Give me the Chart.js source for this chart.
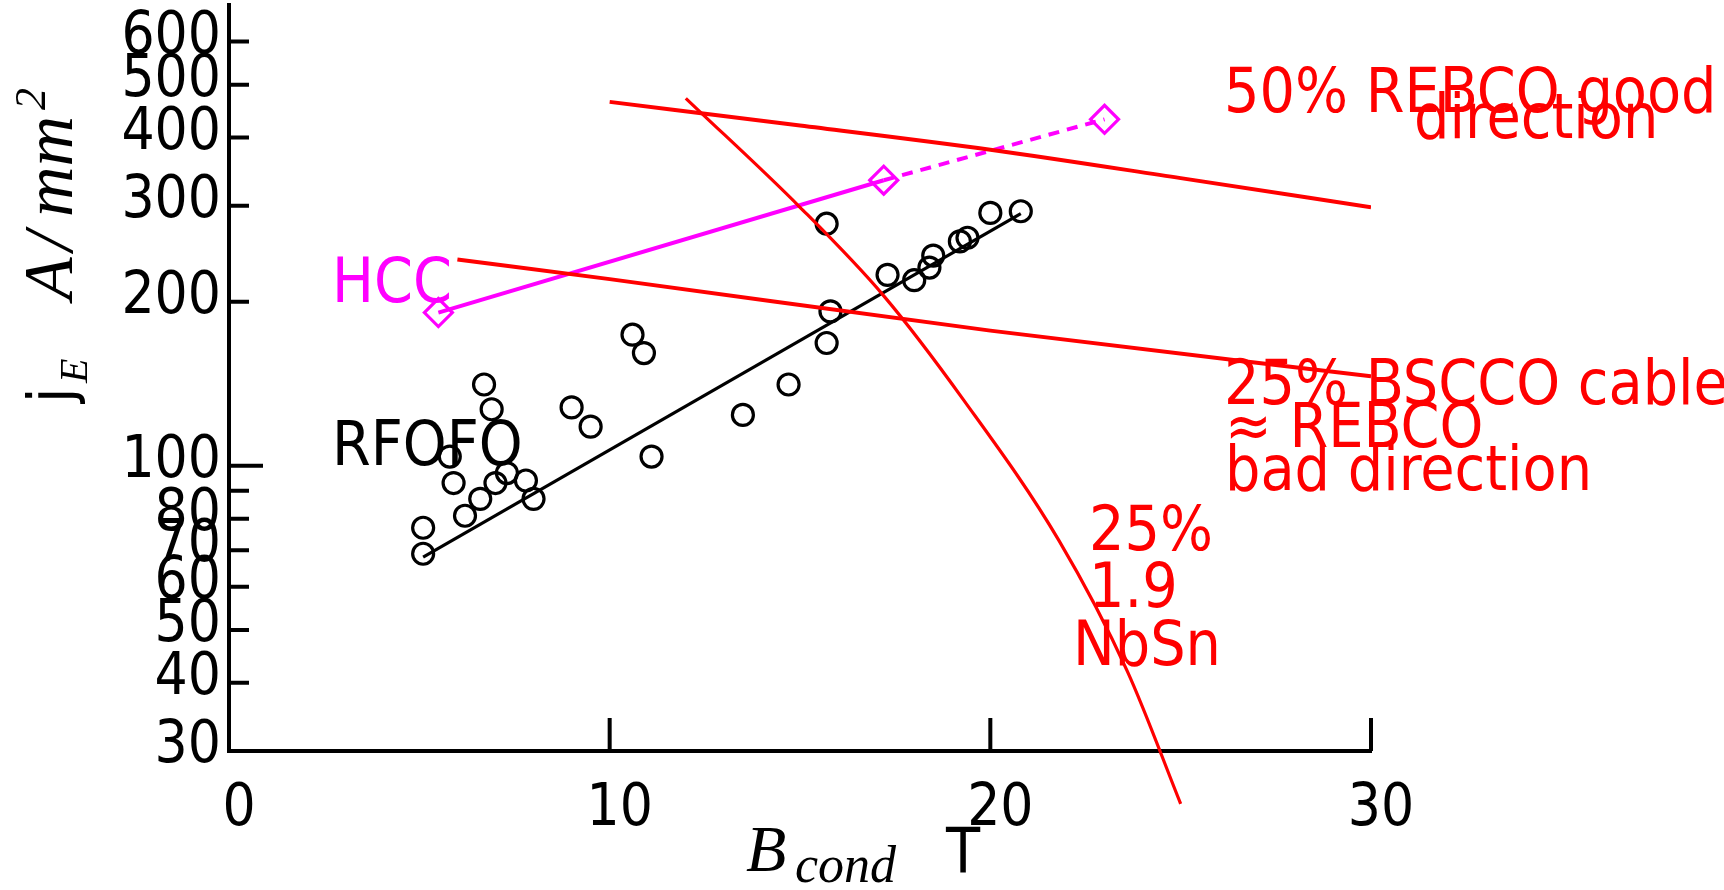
<!DOCTYPE html>
<html>
<head>
<meta charset="utf-8">
<title>jE vs Bcond</title>
<script src="https://cdn.jsdelivr.net/npm/chart.js@4.4.0/dist/chart.umd.js"></script>
<style>
  html, body { margin: 0; padding: 0; background: #fff; }
  #wrap { width: 1724px; height: 890px; position: relative; }
</style>
</head>
<body>
<div id="wrap"><canvas id="chart"></canvas></div>
<script>
// RFOFO cases: field on conductor (T) and engineering current density (A/mm^2)
const rfofoB = [5.1, 5.1, 6.2, 6.6, 5.9, 5.8, 7.0, 7.3, 7.8, 8.0, 6.7, 6.9, 9.0, 9.5, 10.6, 10.9, 11.1, 13.5, 14.7, 15.7, 15.7, 15.8, 17.3, 18.0, 18.4, 18.5, 19.2, 19.4, 20.0, 20.8];
const rfofoJ = [69, 77, 81, 87, 93, 104, 93, 97, 94, 87, 141, 127, 128, 118, 174, 161, 104, 124, 141, 278, 168, 192, 224, 219, 231, 243, 258, 262, 291, 293];

// fit through the RFOFO points
const fitB = [5.1, 20.8];
const fitJ = [68, 290];

// HCC cases
const hccB = [5.5, 17.2, 23.0];
const hccJ = [191, 334, 432];

// conductor limits
const rebcoB = [10, 15, 20, 25, 30];
const rebcoJ = [465, 421, 380, 337, 298];
const bsccoB = [6, 10, 20, 30];
const bsccoJ = [239, 220, 177, 146];
const nbsnB = [12.0, 15.0, 17.2, 19.3, 21.8, 23.6, 25.0];
const nbsnJ = [472, 298, 205, 132, 73, 42, 24];

// axes
const xTicks = [0, 10, 20, 30];
const yTicks = [30, 40, 50, 60, 70, 80, 90, 100, 200, 300, 400, 500, 600];
const yLabelled = [30, 40, 50, 60, 70, 80, 100, 200, 300, 400, 500, 600];

const SANS = "'DejaVu Sans Condensed', 'DejaVu Sans', sans-serif";
const SERIF = "'Liberation Serif', 'DejaVu Serif', serif";
const RED = '#ff0000';
const MAGENTA = '#ff00ff';

function pts(xs, ys) {
    return xs.map(function(v, i) { return { x: v, y: ys[i] }; });
}

// free text on the plot (canvas pixels, left / baseline)
const notes = [
    { text: '50% REBCO good', x: 1224, y: 112, color: RED },
    { text: 'direction', x: 1414, y: 138, color: RED },
    { text: '25% BSCCO cable', x: 1224, y: 404, color: RED },
    { text: '\u2248 REBCO', x: 1225, y: 447, color: RED },
    { text: 'bad direction', x: 1225, y: 490, color: RED },
    { text: '25%', x: 1089, y: 550, color: RED },
    { text: '1.9', x: 1089, y: 607, color: RED },
    { text: 'NbSn', x: 1073, y: 665, color: RED },
    { text: 'HCC', x: 332, y: 302, color: MAGENTA },
    { text: 'RFOFO', x: 332, y: 465, color: '#000' }
];

const inwardTicks = {
    id: 'inwardTicks',
    afterDraw: function(chart) {
        const ctx = chart.ctx;
        const a = chart.chartArea;
        const x = chart.scales.x, y = chart.scales.y;
        ctx.save();
        ctx.strokeStyle = '#000';
        ctx.lineWidth = 4;
        ctx.beginPath();
        yTicks.forEach(function(v) {
            if (v === 30) return;
            const py = y.getPixelForValue(v);
            ctx.moveTo(a.left, py);
            ctx.lineTo(a.left + (v === 100 ? 34 : 20), py);
        });
        xTicks.forEach(function(v) {
            if (v === 0) return;
            const px = x.getPixelForValue(v);
            ctx.moveTo(px, a.bottom);
            ctx.lineTo(px, a.bottom - 33);
        });
        ctx.stroke();
        ctx.restore();
    }
};

const textLayer = {
    id: 'textLayer',
    afterDraw: function(chart) {
        const ctx = chart.ctx;
        ctx.save();
        ctx.textAlign = 'left';
        ctx.textBaseline = 'alphabetic';
        ctx.font = '62px ' + SANS;
        notes.forEach(function(n) {
            ctx.fillStyle = n.color;
            ctx.fillText(n.text, n.x, n.y);
        });

        // x title: B_cond  T
        ctx.fillStyle = '#000';
        ctx.font = 'italic 66px ' + SERIF;
        ctx.fillText('B', 746, 871);
        ctx.font = 'italic 52px ' + SERIF;
        ctx.fillText('cond', 795, 882);
        ctx.font = '62px ' + SANS;
        ctx.fillText('T', 946, 872);

        // y title: j_E  A/mm^2 (rotated)
        ctx.translate(72, 403);
        ctx.rotate(-Math.PI / 2);
        ctx.font = '62px ' + SANS;
        ctx.fillText('j', 0, 0);
        ctx.font = 'italic 40px ' + SERIF;
        ctx.fillText('E', 20, 15);
        ctx.font = 'italic 70px ' + SERIF;
        ctx.fillText('A', 103, 0);
        ctx.fillText('/', 152, 0);
        ctx.fillText('mm', 186, 0);
        ctx.font = 'italic 44px ' + SERIF;
        ctx.fillText('2', 293, -27);
        ctx.restore();
    }
};

function noPad(scale) {
    scale.paddingTop = 0;
    scale.paddingBottom = 0;
    scale.paddingLeft = 0;
    scale.paddingRight = 0;
}

Chart.defaults.font.family = SANS;
Chart.defaults.color = '#000';

new Chart(document.getElementById('chart'), {
    type: 'scatter',
    data: {
        datasets: [
            {
                label: '25% 1.9 NbSn',
                type: 'line',
                data: pts(nbsnB, nbsnJ),
                borderColor: RED,
                borderWidth: 3.2,
                pointRadius: 0,
                cubicInterpolationMode: 'monotone',
                capBezierPoints: false,
                clip: false
            },
            {
                label: '50% REBCO good direction',
                type: 'line',
                data: pts(rebcoB, rebcoJ),
                borderColor: RED,
                borderWidth: 4,
                pointRadius: 0,
                cubicInterpolationMode: 'monotone'
            },
            {
                label: '25% BSCCO cable',
                type: 'line',
                data: pts(bsccoB, bsccoJ),
                borderColor: RED,
                borderWidth: 4,
                pointRadius: 0,
                cubicInterpolationMode: 'monotone'
            },
            {
                label: 'HCC',
                type: 'line',
                data: pts(hccB, hccJ),
                borderColor: MAGENTA,
                borderWidth: 4,
                pointStyle: 'rectRot',
                pointRadius: 14,
                pointBorderWidth: 3.2,
                pointBorderColor: MAGENTA,
                pointBackgroundColor: 'rgba(0,0,0,0)',
                segment: {
                    borderDash: function(ctx) { return ctx.p0DataIndex === 1 ? [11, 8] : undefined; }
                }
            },
            {
                label: 'RFOFO fit',
                type: 'line',
                data: pts(fitB, fitJ),
                borderColor: '#000',
                borderWidth: 3.2,
                pointRadius: 0
            },
            {
                label: 'RFOFO',
                data: pts(rfofoB, rfofoJ),
                pointStyle: 'circle',
                pointRadius: 10.5,
                borderWidth: 3.2,
                borderColor: '#000',
                backgroundColor: 'rgba(0,0,0,0)'
            }
        ]
    },
    options: {
        responsive: true,
        maintainAspectRatio: false,
        animation: false,
        events: [],
        layout: { autoPadding: false, padding: { left: 0, right: 353, top: 5, bottom: 0 } },
        plugins: {
            legend: { display: false },
            tooltip: { enabled: false }
        },
        scales: {
            x: {
                type: 'linear',
                min: 0,
                max: 30,
                afterBuildTicks: function(scale) {
                    scale.ticks = xTicks.map(function(v) { return { value: v }; });
                },
                afterFit: function(scale) { scale.height = 139; noPad(scale); },
                grid: { display: true, drawOnChartArea: false, drawTicks: false },
                border: { display: true, color: '#000', width: 4 },
                ticks: {
                    font: { size: 58 },
                    color: '#000',
                    padding: 24,
                    labelOffset: 10,
                    maxRotation: 0,
                    autoSkip: false
                }
            },
            y: {
                type: 'logarithmic',
                min: 30,
                max: 700,
                afterBuildTicks: function(scale) {
                    scale.ticks = yTicks.map(function(v) { return { value: v }; });
                },
                afterFit: function(scale) { scale.width = 229; noPad(scale); },
                grid: { display: true, drawOnChartArea: false, drawTicks: false },
                border: { display: true, color: '#000', width: 4 },
                ticks: {
                    font: { size: 58 },
                    color: '#000',
                    padding: 8,
                    labelOffset: -4,
                    autoSkip: false,
                    callback: function(v) { return yLabelled.indexOf(v) >= 0 ? String(v) : ''; }
                }
            }
        }
    },
    plugins: [inwardTicks, textLayer]
});
</script>
</body>
</html>
